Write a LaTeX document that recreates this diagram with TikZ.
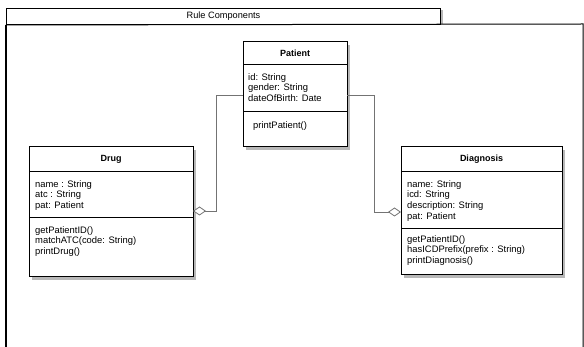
\documentclass[tikz,border=0pt]{standalone}
\usepackage{fontspec}
\setmainfont{Liberation Sans}
\usetikzlibrary{positioning}
\usetikzlibrary{shadows}
\usetikzlibrary{arrows.meta}

\tikzset{
	part/.style={draw=black, line width=1pt, fill=white, inner sep=0pt, outer sep=0pt,
		drop shadow={shadow xshift=3pt, shadow yshift=-3pt, fill=black!28, opacity=1}},
	classhead/.style={part, font=\bfseries\fontsize{9}{11}\selectfont},
	members/.style={anchor=north west, inner sep=0pt, align=left, font=\fontsize{9.4}{10.7}\selectfont},
	link/.style={draw=black!55, line width=0.8pt},
	aggregation/.style={link, -{Diamond[length=13pt, width=9pt, fill=white, line width=0.8pt]}}
}

\begin{document}
\begin{tikzpicture}[x=1pt,y=-1pt]
		\useasboundingbox (0,0) rectangle (584,347);
		
		% frame
		\fill[black!28] (440,10) rectangle (443,24);
		\node[draw=black, line width=1pt, fill=white, inner sep=0pt, anchor=north west,
			minimum width=434pt, minimum height=16pt, font=\fontsize{9.2}{11}\selectfont] (rule) at (6,8) {Rule Components};
		\draw[line width=1pt] (rule.south west) -- (583,24) -- (583,347);
		\draw[line width=1.6pt] (rule.south west) -- (6,347);
		
		% Patient
		\node[classhead, minimum width=104pt, minimum height=23pt, anchor=north west] (patient) at (243,42) {Patient};
		\node[part, minimum width=104pt, minimum height=47pt, below=0pt of patient] (patient-attr) {};
		\node[part, minimum width=104pt, minimum height=35pt, below=0pt of patient-attr] (patient-ops) {};
		\node[members] (patient-attr-text) at ([shift={(5pt,-8pt)}]patient-attr.north west) {id: String\\gender: String\\dateOfBirth: Date};
		\node[members] (patient-ops-text) at ([shift={(10pt,-9pt)}]patient-ops.north west) {printPatient()};
		
		% Drug
		\node[classhead, minimum width=164pt, minimum height=25pt, anchor=north west] (drug) at (29,147) {Drug};
		\node[part, minimum width=164pt, minimum height=46pt, below=0pt of drug] (drug-attr) {};
		\node[part, minimum width=164pt, minimum height=59pt, below=0pt of drug-attr] (drug-ops) {};
		\node[members] (drug-attr-text) at ([shift={(6pt,-8pt)}]drug-attr.north west) {name : String\\atc : String\\pat: Patient};
		\node[members] (drug-ops-text) at ([shift={(6pt,-8pt)}]drug-ops.north west) {getPatientID()\\matchATC(code: String)\\printDrug()};
		
		% Diagnosis
		\node[classhead, minimum width=161pt, minimum height=25pt, anchor=north west] (diagnosis) at (401,147) {Diagnosis};
		\node[part, minimum width=161pt, minimum height=57pt, below=0pt of diagnosis] (diagnosis-attr) {};
		\node[part, minimum width=161pt, minimum height=46pt, below=0pt of diagnosis-attr] (diagnosis-ops) {};
		\node[members] (diagnosis-attr-text) at ([shift={(6pt,-8pt)}]diagnosis-attr.north west) {name: String\\icd: String\\description: String\\pat: Patient};
		\node[members] (diagnosis-ops-text) at ([shift={(6pt,-6pt)}]diagnosis-ops.north west) {getPatientID()\\hasICDPrefix(prefix : String)\\printDiagnosis()};
		
		% aggregation links
		\coordinate (PL) at ([yshift=-30pt]patient-attr.north west);
		\coordinate (PR) at ([yshift=-30pt]patient-attr.north east);
		\coordinate (D) at ([yshift=7pt]drug-attr.south east);
		\coordinate (G) at ([yshift=-40pt]diagnosis-attr.north west);
		
		\draw[aggregation] (PL) -| ([xshift=23pt]D) -- (D);
		\draw[aggregation] (PR) -| ([xshift=-27pt]G) -- (G);
	\end{tikzpicture}
\end{document}
